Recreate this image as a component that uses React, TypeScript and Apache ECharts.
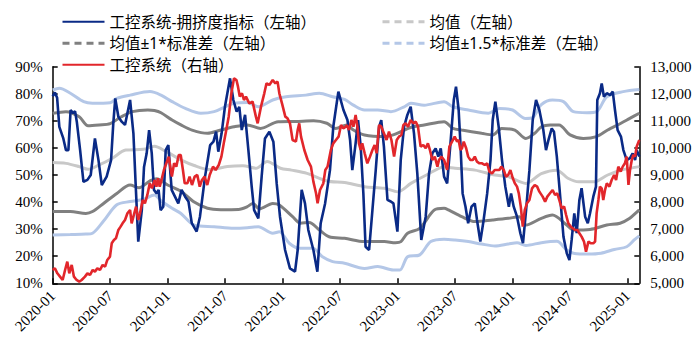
import React, { useEffect, useRef } from "react";
import * as echarts from "echarts";

// x values are weeks since the first week of 2020-01
const tickLabels = ["2020-01", "2020-07", "2021-01", "2021-07", "2022-01", "2022-07", "2023-01", "2023-07", "2024-01", "2024-07", "2025-01"];
const weeksPerTick = 26;
const lastWeek = 265.3;

const NAME_CROWD = "工控系统-拥挤度指标（左轴）";
const NAME_MEAN = "均值（左轴）";
const NAME_STD1 = "均值±1*标准差（左轴）";
const NAME_STD15 = "均值±1.5*标准差（左轴）";
const NAME_INDEX = "工控系统（右轴）";

// 拥挤度指标 (%)
const crowding: number[][] = [
  [0, 79], [1, 80.5], [2, 78.5], [3, 67.8], [4.8, 63.5], [6, 59.2], [7.1, 59.2], [8.1, 74], [9.3, 72.8], [10.1, 73.6], [10.9, 69.7],
  [12.4, 59.2], [13.9, 47.5], [15.7, 48.2], [17.2, 50], [19.1, 63.5], [20.7, 55.5], [22.2, 46.3], [24.4, 49.4], [26.4, 55.5],
  [27.4, 69], [28.3, 78.3], [29.7, 71.5], [31.2, 69.7], [32.7, 68.5], [35, 77.7], [36.5, 65.4], [37.5, 46.9], [38.7, 25.4],
  [40.3, 37], [41.3, 53], [42.5, 58], [43.6, 66.6], [44.8, 58], [45.8, 44.5], [47, 43.2], [47.9, 44.5], [48.8, 37], [50, 38.3],
  [51.1, 59.2], [52.3, 61], [53.8, 44.5], [55.3, 42], [56.8, 39.5], [58.3, 44.5], [59.9, 42], [61.4, 40.2], [62.9, 32.2],
  [65.1, 29.1], [66.6, 34.6], [68.9, 49.4], [71.2, 61], [72.7, 62.3], [73.9, 66], [74.9, 58.6], [76.4, 65.4], [77.9, 75.2],
  [80.2, 85.7], [81.7, 77.7], [83.2, 73.4], [84.4, 75.2], [85.5, 66.6], [87, 72.2], [88.5, 59.2], [90, 45.7], [91.1, 37],
  [93, 34], [94.5, 49.4], [96, 63.5], [98, 66], [99.8, 62.3], [101.3, 46.9], [102.8, 34.6], [105.1, 22.3], [107.3, 15.5],
  [109.6, 14.3], [110.8, 22.3], [112.6, 44.5], [114.1, 39.5], [115.6, 29.7], [117.9, 22.3], [119.7, 14.3], [121.2, 32.2],
  [123.2, 39.5], [125.4, 51.8], [126.9, 67.8], [129.2, 80.8], [131.5, 74], [133.3, 70.3], [134.5, 62.9], [135.5, 51.8],
  [137, 61.7], [138.1, 70.3], [139.3, 60.5], [140.5, 43.2], [141.5, 23.5], [143.1, 22.3], [144.6, 37], [146.1, 51.8],
  [147.6, 67.8], [148.6, 70.3], [149.8, 60.5], [151.4, 40.8], [152.9, 40.2], [154.1, 39.5], [155.9, 29.1], [157.4, 55.5],
  [158.9, 67.8], [160.4, 72.2], [161.9, 75.2], [163.4, 65.4], [164.9, 50.6], [166.7, 26], [168.7, 34.6], [170.2, 50.6],
  [171.7, 58], [173.2, 59.8], [174.4, 56.8], [175.5, 59.8], [177, 49.4], [178.4, 46.9], [179.9, 61.7], [181.4, 77.7],
  [182.4, 82.6], [183.6, 74], [184.4, 61.7], [185.4, 43.2], [186.7, 38.3], [187.9, 32.2], [189.4, 38.3], [190.9, 39.5],
  [191.9, 33.4], [193.4, 25.4], [194.9, 33.4], [196.5, 43.2], [198, 55.5], [199, 70.3], [200.2, 77.1], [201.7, 67.8],
  [203.2, 55.5], [204.7, 45.7], [206.3, 38.3], [207.3, 43.2], [208.5, 38.3], [210, 34.6], [211.5, 28.5], [212.7, 24.8],
  [214.1, 37], [215.6, 51.8], [217.1, 70.3], [218.6, 77.7], [220.1, 74], [221.9, 66.6], [223.1, 59.2], [224.2, 62.9],
  [225.7, 67.2], [226.7, 66], [228, 56.8], [229.4, 43.2], [231, 27.2], [232.5, 21.1], [233.7, 18.6], [234.7, 26],
  [235.9, 35.8], [237, 28.5], [238.2, 40.8], [239.2, 45.1], [240.8, 34.6], [242, 32.2], [243, 35.8], [244.5, 42],
  [245.7, 45.7], [246.3, 77.7], [247.5, 80.2], [248.3, 83.8], [249.3, 78.9], [250.6, 80.2], [252.1, 79.5], [253.3, 80.8],
  [254.3, 74], [255.5, 66.6], [257, 64.2], [258.1, 59.2], [259.6, 55.5], [261.1, 56.2], [262.3, 58], [263.4, 55.5],
  [264.1, 59.2], [265.3, 56.8],
];

// 均值 (%)
const meanLine: number[][] = [
  [0, 54.6], [6, 54.3], [12, 53.1], [16, 52.1], [21, 53.7], [27, 56.2], [33, 59.2], [41, 59.5], [46, 60.6], [51, 58.8],
  [58, 55.6], [64, 53.5], [71, 52], [79, 53.1], [86, 53.4], [92, 52.5], [97, 55], [103, 52.5], [108, 51.8], [115, 50.6],
  [124, 47.8], [132, 47.2], [141, 45.7], [150, 45.1], [156, 43.8], [162, 46.9], [169, 50], [177, 53], [182, 52.5],
  [191, 51.8], [200, 50], [206, 49.4], [214, 46.9], [221, 50.5], [228, 51.8], [233, 48.8], [238, 47.5], [245, 47.5],
  [251, 50], [257, 51.8], [265.3, 53.1],
];

// 均值+1*标准差 (%)
const upperStd1: number[][] = [
  [0, 72.8], [6, 73.4], [12, 71.5], [16, 68.2], [21, 68.5], [26, 69], [31, 71.5], [36, 73.4], [43, 74], [46, 73.8],
  [49, 73], [54, 70.3], [58, 68.5], [63, 66.6], [70, 65.4], [76, 66.6], [82, 67.8], [88, 68.5], [94, 67.2], [102, 69.7],
  [110, 69.8], [118, 70], [124, 69.1], [128, 67.2], [133, 68.5], [136, 66.6], [141, 64.8], [150, 64.2], [154, 64.8],
  [159, 66.6], [163, 67.8], [168, 68.5], [177, 69.7], [181, 67.2], [185, 66.6], [194, 65.4], [199, 64.8], [203, 67.2],
  [209, 66.6], [214, 63.5], [218, 65.4], [221, 67.8], [225, 68.5], [229, 68.5], [234, 64.8], [240, 63.5], [246, 64.2],
  [251, 66.6], [257, 69.1], [261, 70.9], [265.3, 72.8],
];

// 均值-1*标准差 (%)
const lowerStd1: number[][] = [
  [0, 36.5], [8, 36.5], [15, 35.8], [18, 36.5], [23, 39.5], [29, 43.2], [35, 46.3], [39, 45.3], [44, 47.8], [47, 48.6],
  [52, 46.3], [58, 44], [64, 40], [70, 37.7], [76, 37.2], [84, 37.3], [88, 38.3], [90.5, 39.5], [93.5, 37.5], [99.5, 39.5],
  [102.5, 38.9], [108.5, 34.6], [112, 32.2], [116, 32.5], [120.6, 29.7], [125, 27.2], [132, 26.6], [141, 25.4], [150, 25.4],
  [155, 25], [157.5, 25.4], [160.5, 28.5], [166, 30.3], [172.5, 37], [177, 37.7], [179, 37.1], [185, 34.6], [191, 32.8],
  [199, 33.4], [206, 34], [211, 34.6], [214, 31.5], [221, 34], [226, 35.2], [232.5, 31.5], [235.5, 29.7], [243, 29.9],
  [250.6, 31.5], [256.6, 32.2], [261, 34], [265.3, 37.1],
];

// 均值+1.5*标准差 (%)
const upperStd15: number[][] = [
  [0, 81.4], [3, 82], [8, 80.2], [14, 77.1], [18, 76.5], [26, 76.7], [29, 78.3], [35, 79.5], [44, 80.8], [49, 79.5],
  [54, 77.1], [60, 74.6], [67, 72.8], [73, 73.4], [78, 75.2], [82, 76.5], [88, 76.8], [93, 75.2], [99.5, 77.7],
  [105.5, 78.9], [114.5, 79.5], [120.6, 80.2], [126.6, 78.9], [132, 77.9], [136, 75.8], [141, 74], [147, 74], [153, 73.4],
  [159, 75.2], [162, 76.5], [168, 75.8], [177, 77.1], [181, 75.2], [188, 74], [197, 72.8], [202, 74.6], [208, 74],
  [213.8, 70.9], [217, 71.2], [221, 76], [226, 77.7], [231, 77.1], [235.5, 73.4], [241.5, 73], [246, 73.4], [250.6, 78.9],
  [258, 80.8], [265.3, 81.6],
];

// 均值-1.5*标准差 (%)
const lowerStd15: number[][] = [
  [0, 27.8], [8, 28], [15, 28.2], [18, 28.5], [23, 33], [29, 39], [35, 40.2], [41, 41], [46, 42.6], [49, 40.5], [54, 37.7],
  [58, 35.8], [64, 31.5], [73, 30.9], [82, 30.3], [88, 30.5], [93, 30.9], [99.5, 28.5], [102.5, 29], [107, 24.8],
  [111.5, 22.9], [117.6, 22.9], [122, 19.8], [126.6, 18], [132, 17.4], [141, 15.5], [147, 16.2], [154, 14.9], [157, 14.9],
  [160.5, 19.8], [166, 20.5], [171, 25.4], [177, 26.3], [182, 26], [188, 25.4], [194, 24.5], [200, 23.8], [206, 24.5],
  [210, 25], [214, 24], [221, 25], [228, 25.5], [232.5, 22.3], [236, 21], [242, 20.8], [248, 21.1], [254, 22.5],
  [259.6, 23.5], [263, 26], [265.3, 27.5],
];

// 工控系统指数 (右轴)
const indexLine: number[][] = [
  [0, 5492], [1, 5554], [2.1, 5369], [3.3, 5246], [4.5, 5123], [5.6, 5492], [6.6, 5800], [7.5, 5369], [8.6, 5677],
  [9.6, 5246], [10.8, 5123], [12, 5062], [13.1, 5123], [14.6, 5246], [15.7, 5369], [16.9, 5308], [18.1, 5492], [19.1, 5431],
  [20.2, 5554], [21.4, 5492], [22.6, 5677], [23.7, 5616], [24.7, 5862], [25.9, 5985], [26.7, 6477], [27.7, 6600],
  [28.6, 6662], [29.7, 6970], [30.7, 7093], [31.6, 7216], [32.7, 7339], [33.8, 7585], [35, 7708], [35.7, 7216],
  [36.5, 7462], [37.7, 7831], [38.7, 7339], [39.5, 7585], [40.7, 8078], [41.7, 7954], [42.8, 8262], [43.9, 8693],
  [44.9, 8508], [46.1, 8816], [46.9, 8570], [47.6, 8878], [48.4, 8570], [49.4, 8878], [50.3, 9185], [51.4, 9432],
  [52.5, 9678], [53.4, 9185], [53.9, 8939], [54.9, 9432], [55.9, 9309], [57, 9740], [57.9, 9740], [58.9, 9185],
  [59.7, 8693], [60.9, 8693], [61.9, 8939], [63, 8631], [64.2, 8939], [65.4, 9001], [66.5, 8570], [67.5, 8816],
  [68.7, 8939], [69.9, 8631], [71, 9001], [72.5, 9309], [73.7, 9185], [75.1, 9370], [76.3, 9678], [77.5, 10232],
  [78.5, 10663], [79.6, 11155], [80.8, 12017], [82, 12571], [83.1, 12509], [83.8, 12263], [84.6, 11894], [85.6, 12017],
  [86.5, 11771], [87.4, 11894], [88.9, 11647], [90.4, 11709], [91.9, 11155], [92.7, 10909], [94.2, 11524], [95.7, 12017],
  [96.7, 12386], [98, 12325], [99.5, 12509], [100.7, 12386], [101.7, 12448], [102.5, 12017], [103.7, 11647],
  [105.2, 11155], [106.2, 11093], [107.3, 10909], [108.5, 10293], [110, 10232], [110.8, 10663], [111.5, 10909],
  [112.3, 10416], [113.8, 9924], [115.3, 9555], [116.8, 9309], [117.9, 8755], [119.1, 8324], [119.8, 7954], [120.9, 8447],
  [122.4, 8693], [123.3, 9185], [124.3, 9309], [125.8, 9924], [126.9, 10170], [128.1, 10293], [129.3, 10416],
  [130.4, 10847], [131.4, 10724], [132.6, 10786], [133, 10847], [134, 10663], [135.1, 11032], [136, 10786], [137, 11217],
  [137.8, 10786], [138.5, 10170], [139.3, 9924], [140, 10170], [141.1, 9801], [142.3, 9432], [143.5, 9678], [144.6, 9924],
  [145.6, 10109], [146.5, 9801], [147.6, 10847], [148.6, 10786], [149.8, 10540], [151, 10293], [152.1, 10601],
  [153.2, 10293], [154.4, 9678], [155.6, 10293], [156.6, 10416], [157.7, 10478], [158.6, 10847], [159.6, 10909],
  [160.7, 10786], [161.9, 11032], [163.1, 10909], [164.2, 10970], [165.2, 10786], [166.4, 10047], [167.6, 10109],
  [168.7, 9986], [169.7, 10170], [170.6, 9924], [171.7, 9555], [172.8, 9678], [174, 9309], [174.7, 9555], [175.8, 9678],
  [177, 9555], [178.4, 9185], [179.4, 10047], [180.6, 10232], [181.8, 10416], [182.9, 10232], [183.6, 10293],
  [184.4, 9924], [185.1, 9986], [185.9, 10232], [187, 9986], [187.9, 9678], [188.9, 9555], [190, 9555], [190.9, 9678],
  [191.9, 9493], [193, 9432], [194.2, 9432], [195.4, 9370], [196.5, 9432], [197.5, 9124], [198.7, 9062], [199.9, 9185],
  [201, 9185], [202, 9185], [202.9, 9309], [204, 9185], [205, 8939], [206, 9001], [207, 9185], [208.1, 8878],
  [209, 8693], [210, 8570], [210.8, 8324], [211.7, 7831], [212.6, 7093], [213.5, 7708], [214.5, 7954], [215.6, 8078],
  [216.8, 8508], [218, 8632], [219.1, 8570], [220.1, 8385], [221.6, 8201], [222.7, 8016], [223.7, 8201], [224.9, 8324],
  [226.1, 8447], [227.2, 8262], [228.2, 8324], [229.1, 8078], [230.2, 7770], [231.3, 7831], [232.2, 7524], [233.2, 7216],
  [234.3, 7093], [235.2, 7031], [236.2, 6970], [237.3, 6970], [238.2, 6847], [239.2, 6723], [240.3, 6539], [241.2, 6170],
  [242.3, 6539], [243.3, 6477], [244.5, 6477], [245.3, 6539], [246, 7585], [246.8, 8078], [247.5, 8570], [248.3, 8508],
  [249, 8078], [249.8, 8447], [250.6, 8693], [251.8, 8570], [252.8, 8816], [253.9, 9001], [254.8, 8816], [255.8, 9309],
  [256.9, 9124], [257.8, 9309], [258.8, 9432], [259.6, 9678], [260.4, 8632], [261.1, 9185], [261.9, 9555], [262.6, 9740],
  [263.4, 9678], [264.1, 10047], [265.3, 10293],
];

const COLOR_CROWD = "#0a2a86";
const COLOR_MEAN = "#c8c8c8";
const COLOR_STD1 = "#808080";
const COLOR_STD15 = "#b4c7e7";
const COLOR_INDEX = "#e2262b";

const serifFont = "'Times New Roman', 'Liberation Serif', serif";
const legendFont = "'Noto Sans', 'Noto Sans CJK SC', sans-serif";

export default function App() {
  const ref = useRef<HTMLDivElement>(null);

  useEffect(() => {
    if (!ref.current) return;
    const chart = echarts.init(ref.current, undefined, { renderer: "svg" });
    const dashed = { type: [7, 5] as number[], width: 3 };
    const axisColor = "#000";
    const bandSeries = (name: string, data: number[][], color: string) => ({
      name,
      type: "line",
      data,
      symbol: "none",
      smooth: 0.3,
      lineStyle: { color, width: 3 },
      itemStyle: { color },
      z: 2,
    });
    const legendCommon = {
      orient: "vertical",
      top: 9,
      itemWidth: 42,
      itemHeight: 14,
      itemGap: 6,
      selectedMode: false,
      itemStyle: { opacity: 0, borderWidth: 0 },
      textStyle: { fontSize: 15.5, fontFamily: legendFont, color: "#000", lineHeight: 14 },
    };
    chart.setOption({
      animation: false,
      backgroundColor: "#fff",
      legend: [
        {
          ...legendCommon,
          left: 56,
          data: [
            { name: NAME_CROWD },
            { name: NAME_STD1, lineStyle: dashed },
            { name: NAME_INDEX },
          ],
        },
        {
          ...legendCommon,
          left: 376,
          data: [
            { name: NAME_MEAN, lineStyle: dashed },
            { name: NAME_STD15, lineStyle: dashed },
          ],
        },
      ],
      grid: { left: 52.7, right: 58.7, top: 66.7, bottom: 79.7, containLabel: false },
      xAxis: {
        type: "value",
        min: 0,
        max: lastWeek,
        interval: weeksPerTick,
        splitLine: { show: false },
        axisLine: { show: true, lineStyle: { color: axisColor, width: 1.5 } },
        axisTick: { show: true, inside: true, length: 5, lineStyle: { color: axisColor, width: 1.5 } },
        axisLabel: {
          rotate: 45,
          margin: 10,
          fontSize: 15,
          fontFamily: serifFont,
          color: "#000",
          showMaxLabel: false,
          formatter: (v: number) => {
            const k = Math.round(v / weeksPerTick);
            if (Math.abs(v - k * weeksPerTick) > 0.01) return "";
            return tickLabels[k] ?? "";
          },
        },
      },
      yAxis: [
        {
          type: "value",
          min: 10,
          max: 90,
          interval: 10,
          position: "left",
          splitLine: { show: false },
          axisLine: { show: true, lineStyle: { color: axisColor, width: 1.5 } },
          axisTick: { show: true, inside: true, length: 5, lineStyle: { color: axisColor, width: 1.5 } },
          axisLabel: { formatter: "{value}%", fontSize: 15, fontFamily: serifFont, color: "#000", margin: 10 },
        },
        {
          type: "value",
          min: 5000,
          max: 13000,
          interval: 1000,
          position: "right",
          splitLine: { show: false },
          axisLine: { show: true, lineStyle: { color: axisColor, width: 1.5 } },
          axisTick: { show: true, inside: true, length: 5, lineStyle: { color: axisColor, width: 1.5 } },
          axisLabel: { fontSize: 15, fontFamily: serifFont, color: "#000", margin: 11 },
        },
      ],
      series: [
        bandSeries(NAME_MEAN, meanLine, COLOR_MEAN),
        bandSeries(NAME_STD1, upperStd1, COLOR_STD1),
        bandSeries(NAME_STD1, lowerStd1, COLOR_STD1),
        bandSeries(NAME_STD15, upperStd15, COLOR_STD15),
        bandSeries(NAME_STD15, lowerStd15, COLOR_STD15),
        {
          name: NAME_CROWD,
          type: "line",
          data: crowding,
          symbol: "none",
          lineStyle: { color: COLOR_CROWD, width: 2.6 },
          itemStyle: { color: COLOR_CROWD },
          z: 3,
        },
        {
          name: NAME_INDEX,
          type: "line",
          yAxisIndex: 1,
          data: indexLine,
          symbol: "none",
          lineStyle: { color: COLOR_INDEX, width: 2.6 },
          itemStyle: { color: COLOR_INDEX },
          z: 4,
        },
      ],
    });
    return () => chart.dispose();
  }, []);

  return (
    <div
      ref={ref}
      style={{ position: "fixed", left: 0, top: 0, width: 698, height: 363, background: "#fff" }}
    />
  );
}
